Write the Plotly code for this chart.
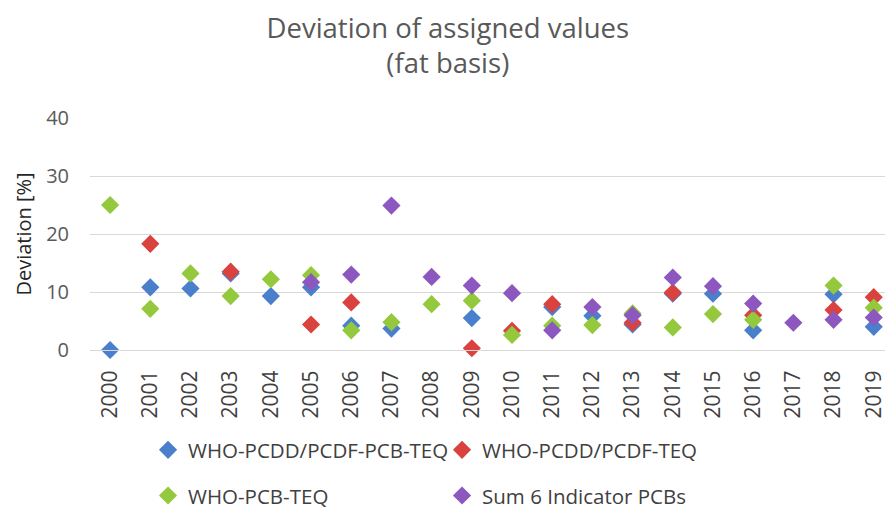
import plotly.graph_objects as go

years = [str(y) for y in range(2000, 2020)]

who_pcdd_pcdf_pcb_teq = [0.0, 10.8, 10.6, 13.2, 9.3, 10.8, 4.2, 3.7, None, 5.5,
                         None, 7.4, 5.9, 4.4, 9.7, 9.7, 3.4, None, 9.6, 4.0]
who_pcdd_pcdf_teq = [None, 18.3, None, 13.5, None, 4.4, 8.2, None, None, 0.3,
                     3.3, 7.9, None, 4.7, 9.9, None, 6.0, None, 6.9, 9.1]
who_pcb_teq = [25.0, 7.1, 13.2, 9.3, 12.2, 12.9, 3.4, 4.8, 7.9, 8.5,
               2.6, 4.2, 4.3, 6.3, 3.9, 6.2, 5.2, None, 11.1, 7.3]
sum_6_indicator_pcbs = [None, None, None, None, None, 11.7, 13.0, 24.9, 12.6, 11.1,
                        9.8, 3.4, 7.4, 6.0, 12.5, 11.0, 8.0, 4.7, 5.2, 5.6]

series = [
    ("WHO-PCDD/PCDF-PCB-TEQ", who_pcdd_pcdf_pcb_teq, "#4A7FCB", "legend"),
    ("WHO-PCDD/PCDF-TEQ", who_pcdd_pcdf_teq, "#D9423F", "legend"),
    ("WHO-PCB-TEQ", who_pcb_teq, "#94C83D", "legend2"),
    ("Sum 6 Indicator PCBs", sum_6_indicator_pcbs, "#8C58BF", "legend2"),
]

FONT = "Open Sans"

fig = go.Figure()
for name, vals, color, lg in series:
    fig.add_trace(go.Scatter(
        x=years, y=vals, name=name, mode="markers",
        marker=dict(symbol="diamond", size=14, color=color),
        cliponaxis=False, legend=lg,
    ))

legend_common = dict(
    orientation="h", xanchor="left", yanchor="middle", x=0.073,
    entrywidth=249, entrywidthmode="pixels",
    font=dict(family=FONT, size=20.5, color="#404040"),
    bgcolor="rgba(0,0,0,0)", itemclick=False,
)

fig.update_layout(
    width=885, height=507,
    margin=dict(l=90, r=0, t=118, b=157, autoexpand=False),
    paper_bgcolor="white", plot_bgcolor="white",
    title=dict(
        text="Deviation of assigned values<br>(fat basis)",
        x=0.506, xanchor="center", y=0.926, yanchor="top",
        font=dict(family=FONT, size=27.5, color="#595959"),
    ),
    legend=dict(y=-0.431, **legend_common),
    legend2=dict(y=-0.628, **legend_common),
    showlegend=True,
)

fig.update_xaxes(
    type="category", range=[-0.5, 19.28], automargin=False,
    tickangle=-90, showgrid=False,
    showline=True, linecolor="#D9D9D9", linewidth=1,
    tickfont=dict(family=FONT, size=21, color="#404040"),
    ticks="", ticklabelstandoff=11,
)
fig.update_yaxes(
    range=[0, 40], dtick=10, automargin=False,
    showgrid=True, gridcolor="#D9D9D9", gridwidth=1,
    zeroline=False, showline=False,
    tickfont=dict(family=FONT, size=20, color="#595959"),
    ticklabelstandoff=20,
    title=dict(text="Deviation [%]", font=dict(family=FONT, size=20, color="#262626"), standoff=9),
)

fig.write_html(
    "out.html",
    config={"displayModeBar": False},
    post_script="document.body.style.margin='0';document.body.style.padding='0';",
)
